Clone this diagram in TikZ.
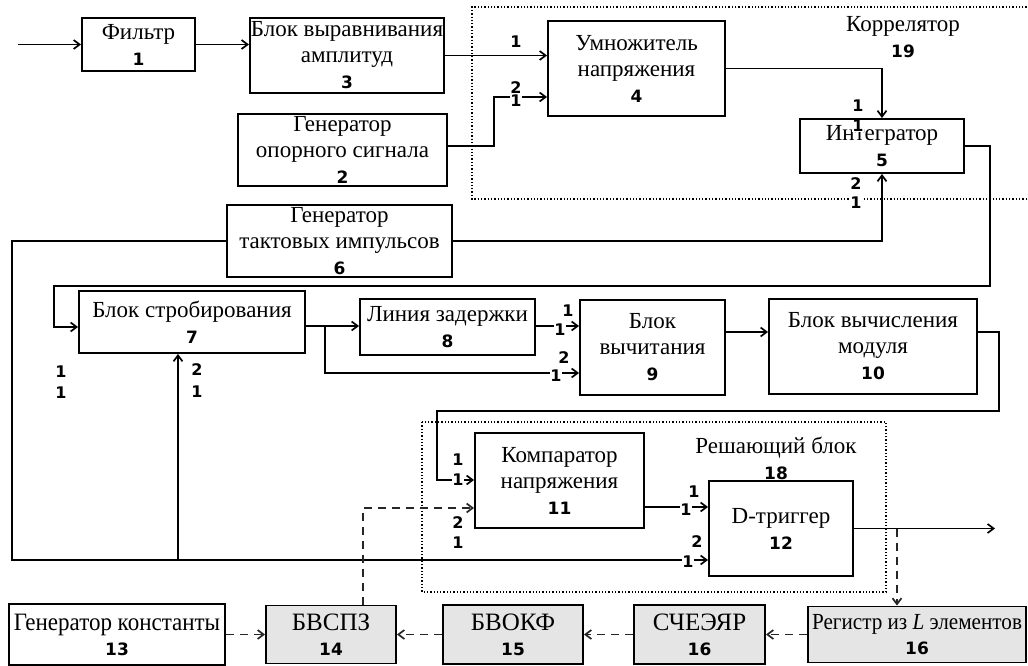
\documentclass[tikz,border=0pt]{standalone}
\usepackage{fontspec}
\setmainfont{Liberation Serif}
\newfontfamily\numfont{DejaVu Sans}
\newfontfamily\narrowfont{Liberation Serif}[FakeStretch=0.92]
\usetikzlibrary{arrows.meta}
\newcommand{\nm}[1]{{\numfont\bfseries\fontsize{17}{19}\selectfont #1}}
\tikzset{
  blk/.style={draw, line width=1.9pt, align=center, inner sep=1pt,
    font=\fontsize{23}{26}\selectfont},
  gblk/.style={blk, fill=black!10, font=\fontsize{25}{25}\selectfont},
  pin/.style={fill=white, inner sep=0.2pt, align=center,
    font=\numfont\bfseries\fontsize{16}{13.5}\selectfont},
  wire/.style={line width=1.7pt},
  dwire/.style={wire, draw=black!85, dash pattern=on 8pt off 6pt},
  grp/.style={dotted, line width=1.3pt},
  >={Straight Barb[length=6pt,width=9pt]}
}
\begin{document}
\begin{tikzpicture}[x=1pt,y=-1pt]
    \useasboundingbox (0,0) rectangle (1028,666);
    % 方框
    \node[blk, minimum width=113pt, minimum height=53pt] (f1) at (138.5,44.5) {Фильтр\\\nm{1}};
    \node[blk, minimum width=194pt, minimum height=75pt] (b3) at (347,55.5) {Блок выравнивания\\амплитуд\\\nm{3}};
    \node[blk, minimum width=209pt, minimum height=72pt] (g2) at (342.5,150) {Генератор\\опорного сигнала\\\nm{2}};
    \node[blk, minimum width=177pt, minimum height=95pt] (m4) at (636.5,68.5) {Умножитель\\напряжения\\\nm{4}};
    \node[blk, minimum width=164pt, minimum height=54pt] (i5) at (882,146) {Интегратор\\\nm{5}};
    \node[blk, minimum width=225pt, minimum height=72pt] (g6) at (339.5,241) {Генератор\\тактовых импульсов\\\nm{6}};
    \node[blk, minimum width=226pt, minimum height=62pt] (s7) at (192,322) {Блок стробирования\\\nm{7}};
    \node[blk, minimum width=175pt, minimum height=56pt] (d8) at (447.5,327) {Линия задержки\\\nm{8}};
    \node[blk, minimum width=145pt, minimum height=95pt] (v9) at (652.5,347.5) {Блок\\вычитания\\\nm{9}};
    \node[blk, minimum width=208pt, minimum height=95pt] (c10) at (873,346.5) {Блок вычисления\\модуля\\\nm{10}};
    \node[blk, minimum width=169pt, minimum height=95pt] (k11) at (559.5,480.5) {Компаратор\\напряжения\\\nm{11}};
    \node[blk, minimum width=144pt, minimum height=95pt] (t12) at (781,528.5) {D-триггер\\\nm{12}};
    \node[gblk, fill=none, font=\narrowfont\fontsize{25}{25}\selectfont, minimum width=216pt, minimum height=61pt] (g13) at (117,634.5) {Генератор константы\\\nm{13}};
    \node[gblk, minimum width=130pt, minimum height=58pt] (b14) at (331,634.5) {БВСПЗ\\\nm{14}};
    \node[gblk, minimum width=140pt, minimum height=59pt] (b15) at (513,634.5) {БВОКФ\\\nm{15}};
    \node[gblk, minimum width=131pt, minimum height=59pt] (s16) at (699.5,634.5) {СЧЕЭЯР\\\nm{16}};
    \node[gblk, font=\narrowfont\fontsize{23}{25}\selectfont, minimum width=218pt, minimum height=56pt] (r16) at (917,634.5) {Регистр из \textit{L} элементов\\\nm{16}};

    % 虚线框
    \draw[grp] (1030,7) -- (472,7) -- (472,199) -- (1030,199);
    \node[align=center, font=\fontsize{23}{26}\selectfont] (korr) at (903,37) {Коррелятор\\\nm{19}};
    \draw[grp] (422,422) rectangle (886,592);
    \node[align=center, font=\fontsize{23}{26}\selectfont] (resh) at (776,458) {Решающий блок\\\nm{18}};

    % 连线
    \coordinate (in) at (18,44.5);
    \coordinate (out) at (995,528.5);
    \draw[wire,->] (in) -- (f1.west);
    \draw[wire,->] (f1.east) -- (f1.east -| b3.west);
    \draw[wire,->] (b3.east) -- (b3.east -| m4.west);
    \draw[wire,->] (g2.east |- 0,146) -- (494,146) |- (m4.west |- 0,97);
    \draw[wire,->] (m4.east) -| (i5.north);
    \draw[wire,->] (g6.east) -| (i5.south);
    \draw[wire,->] (i5.east) -- (990,146) |- (54,286) |- (s7.west |- 0,327);
    \draw[wire,->] (g6.west) -- (12,241) |- (t12.west |- 0,560);
    \draw[wire,->] (178,560) -- (s7.south -| 178,0);
    \draw[wire,->] (s7.east |- 0,326) -- (d8.west |- 0,326);
    \draw[wire,->] (325,326) |- (v9.west |- 0,373);
    \draw[wire,->] (d8.east |- 0,326) -- (v9.west |- 0,326);
    \draw[wire,->] (v9.east |- 0,332) -- (c10.west |- 0,332);
    \draw[wire,->] (c10.east |- 0,332) -- (999,332) |- (437,411) |- (k11.west |- 0,480);
    \draw[wire,->] (k11.east |- 0,507) -- (t12.west |- 0,507);
    \draw[wire,->] (t12.east) -- (out);

    % 虚线连线
    \draw[dwire,->] (b14.north -| 363,0) |- (k11.west |- 0,508);
    \draw[dwire,->] (897,528.5) -- (r16.north -| 897,0);
    \draw[dwire,->] (r16.west) -- (s16.east);
    \draw[dwire,->] (s16.west) -- (b15.east);
    \draw[dwire,->] (b15.west) -- (b14.east);
    \draw[dwire,->] (g13.east) -- (b14.west);

    % 输入编号
    \node[pin] (pn0) at (516,94) {2\\1};
    \foreach \px/\py/\t [count=\i] in {516/42/1,
        858/106/1, 858/126/1, 856/184/2, 856/203/1,
        61/372/1, 61/393/1, 197/370/2, 197/392/1,
        568/311/1, 560/330/1, 564/358/2, 556/376/1,
        458/460/1, 458/480/1, 458/523/2, 458/543/1,
        694/492/1, 686/510/1, 697/542/2, 688/562/1}
        \node[pin] (pn\i) at (\px,\py) {\t};
\end{tikzpicture}
\end{document}
